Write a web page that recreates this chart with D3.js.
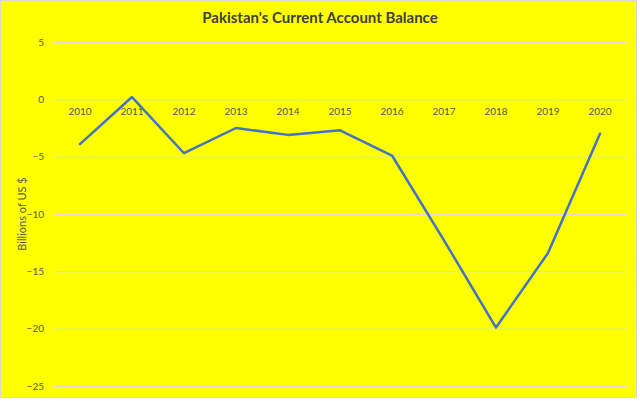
<!DOCTYPE html>
<html><head><meta charset="utf-8">
<script src="https://cdn.jsdelivr.net/npm/d3@7"></script>
<style>html,body{margin:0;padding:0;background:#fff;}svg{display:block;}</style>
</head><body>
<svg id="c" width="640" height="401"></svg>
<script>
const years = ["2010","2011","2012","2013","2014","2015","2016","2017","2018","2019","2020"];
const balance = [-3.9, 0.2, -4.7, -2.5, -3.1, -2.7, -4.9, -12.3, -19.9, -13.4, -3.0];
const yTicks = [5, 0, -5, -10, -15, -20, -25];
const title = "Pakistan's Current Account Balance";
const yLabel = "Billions of US $";

const svg = d3.select("#c");
const W = 640, H = 401;
const font = "Lato, 'Open Sans', sans-serif";
svg.append("rect").attr("x",0.5).attr("y",0.5).attr("width",W-4).attr("height",H-4)
  .attr("fill","#ffff00").attr("stroke","#d9d9d9").attr("stroke-width",1);

const m = {left:54, right:626, top:42, bottom:386};
const x = d3.scaleBand().domain(years).range([m.left, m.right]);
const y = d3.scaleLinear().domain([-25, 5]).range([m.bottom, m.top]);

const yAxis = svg.append("g").attr("transform",`translate(${m.left},0)`)
  .call(d3.axisLeft(y).tickValues(yTicks).tickSize(-(m.right-m.left)).tickPadding(10).tickFormat(d3.format("d")));
yAxis.select(".domain").remove();
yAxis.selectAll(".tick line").attr("stroke","#d9d9d9").attr("stroke-width",1);
yAxis.selectAll(".tick text").attr("fill","#595959").attr("font-family",font).attr("font-size",10);

const xAxis = svg.append("g").attr("transform",`translate(0,${y(0)})`)
  .call(d3.axisBottom(x).tickSize(0).tickPadding(9));
xAxis.select(".domain").remove();
xAxis.selectAll(".tick text").attr("fill","#595959").attr("font-family",font).attr("font-size",10);

const line = d3.line().x((d,i)=>x(years[i])+x.bandwidth()/2).y(d=>y(d));
svg.append("path").datum(balance).attr("d",line).attr("fill","none")
  .attr("stroke","#4472c4").attr("stroke-width",2.5).attr("stroke-linejoin","round").attr("stroke-linecap","round");

svg.append("text").attr("x",320).attr("y",23).attr("text-anchor","middle")
  .attr("font-family",font).attr("font-weight","bold").attr("font-size",15).attr("fill","#404040").text(title);

svg.append("text").attr("transform",`translate(26,${(m.top+m.bottom)/2}) rotate(-90)`)
  .attr("text-anchor","middle").attr("font-family",font).attr("font-size",11).attr("fill","#595959").text(yLabel);
</script>
</body></html>
